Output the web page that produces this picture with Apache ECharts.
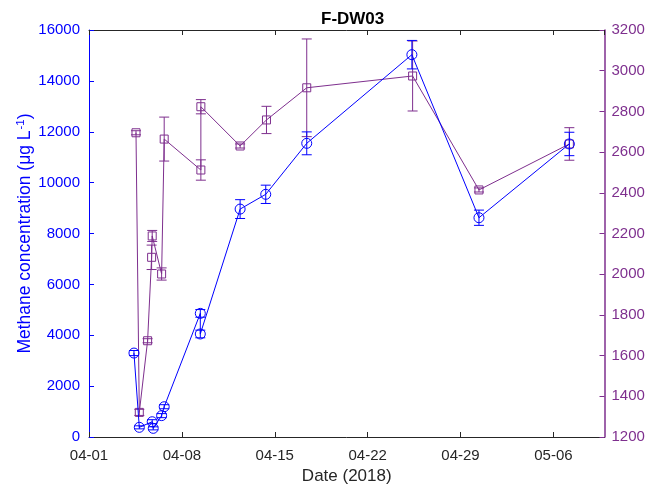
<!DOCTYPE html>
<html>
<head>
<meta charset="utf-8">
<script src="https://cdn.jsdelivr.net/npm/echarts@6/dist/echarts.min.js"></script>
<style>html,body{margin:0;padding:0;background:#fff}#c{width:652px;height:491px}</style>
</head>
<body>
<div id="c"></div>
<script>
// Methane concentration (left axis, blue circles)
const methaneDates = ['04-04 09:20','04-04 19:00','04-05 18:20','04-05 20:10','04-06 11:20','04-06 16:00','04-09 09:20','04-09 09:20','04-12 09:20','04-14 07:40','04-17 09:50','04-25 08:00','04-30 09:20','05-07 04:50'];
const methaneValues = [3300, 380, 600, 340, 840, 1190, 4860, 4050, 8960, 9540, 11545, 15030, 8620, 11520];
const methaneErrors = [100, 60, 80, 60, 80, 80, 150, 150, 370, 360, 450, 560, 300, 460];

// Second series (right axis, purple squares)
const rightDates = ['04-04 13:00','04-04 19:00','04-05 10:00','04-05 17:15','04-05 18:20','04-06 11:20','04-06 16:00','04-09 10:20','04-09 10:20','04-12 09:20','04-14 09:00','04-17 09:50','04-25 09:20','04-30 09:20','05-07 04:50'];
const rightValues = [2695, 1321, 1673, 2083, 2188, 2001, 2664, 2512, 2823, 2630, 2758, 2916, 2974, 2414, 2640];
const rightErrors = [10, 15, 10, 60, 27, 30, 108, 50, 35, 10, 67, 240, 172, 10, 80];

const leftTicks = {min: 0, max: 16000, interval: 2000};
const rightTicks = {min: 1200, max: 3200, interval: 200};
const xTicks = {min: 0, max: 38.85, interval: 7}; // days since 2018-04-01

const BLUE = '#0000FF', PURPLE = '#7E2F8E';
const FONT = 'Liberation Sans, Arial, sans-serif';
const DAY = 86400000, ORIGIN = Date.UTC(2018, 3, 1);

function toDay(s) {
  const [md, hm] = s.split(' ');
  const [m, d] = md.split('-').map(Number);
  const [h, mi] = hm.split(':').map(Number);
  return (Date.UTC(2018, m - 1, d, h, mi) - ORIGIN) / DAY;
}
function fmtDay(v) {
  const dt = new Date(ORIGIN + Math.round(v) * DAY);
  const mm = String(dt.getUTCMonth() + 1).padStart(2, '0');
  const dd = String(dt.getUTCDate()).padStart(2, '0');
  return mm + '-' + dd;
}
const plain = v => String(v);

const mData = methaneDates.map((d, i) => [toDay(d), methaneValues[i]]);
const mErr = methaneDates.map((d, i) => [toDay(d), methaneValues[i] - methaneErrors[i], methaneValues[i] + methaneErrors[i]]);
const rData = rightDates.map((d, i) => [toDay(d), rightValues[i]]);
const rErr = rightDates.map((d, i) => [toDay(d), rightValues[i] - rightErrors[i], rightValues[i] + rightErrors[i]]);

function errRender(color) {
  return function (params, api) {
    const x = api.value(0);
    const lo = api.coord([x, api.value(1)]);
    const hi = api.coord([x, api.value(2)]);
    const w = 5;
    const st = {stroke: color, lineWidth: 1, fill: null};
    return {type: 'group', children: [
      {type: 'line', shape: {x1: lo[0], y1: lo[1], x2: hi[0], y2: hi[1]}, style: st},
      {type: 'line', shape: {x1: lo[0] - w, y1: lo[1], x2: lo[0] + w, y2: lo[1]}, style: st},
      {type: 'line', shape: {x1: hi[0] - w, y1: hi[1], x2: hi[0] + w, y2: hi[1]}, style: st}
    ]};
  };
}

const chart = echarts.init(document.getElementById('c'), null, {renderer: 'canvas'});
chart.setOption({
  animation: false,
  backgroundColor: '#fff',
  title: {text: 'F-DW03', left: 316, top: 6, textStyle: {fontFamily: FONT, fontSize: 17, fontWeight: 'bold', color: '#000'}},
  grid: {left: 89, right: 47.5, top: 30, bottom: 54, containLabel: false},
  xAxis: [{
    type: 'value', min: xTicks.min, max: xTicks.max, interval: xTicks.interval,
    name: 'Date (2018)', nameLocation: 'middle', nameGap: 31, nameMoveOverlap: false,
    nameTextStyle: {fontFamily: FONT, fontSize: 17, color: '#262626'},
    axisLine: {show: true, onZero: false, lineStyle: {color: '#262626', width: 1}},
    axisTick: {show: true, inside: true, length: 5, lineStyle: {color: '#262626'}},
    axisLabel: {formatter: fmtDay, fontFamily: FONT, fontSize: 15, color: '#262626', margin: 11, showMaxLabel: false},
    splitLine: {show: false}
  }, {
    type: 'value', position: 'top', min: xTicks.min, max: xTicks.max, interval: xTicks.interval,
    axisLine: {show: true, onZero: false, lineStyle: {color: '#262626', width: 1}},
    axisTick: {show: true, inside: true, length: 5, lineStyle: {color: '#262626'}},
    axisLabel: {show: false}, splitLine: {show: false}
  }],
  yAxis: [{
    type: 'value', position: 'left', min: leftTicks.min, max: leftTicks.max, interval: leftTicks.interval,
    name: '{a|Methane concentration (μg L}{s|-1}{a|)}', nameLocation: 'middle', nameGap: 54, nameRotate: 90,
    nameMoveOverlap: false,
    nameTextStyle: {color: BLUE, rich: {
      a: {fontFamily: FONT, fontSize: 17.5, color: BLUE},
      s: {fontFamily: FONT, fontSize: 11.5, color: BLUE, verticalAlign: 'top', padding: [0, 0, 8, 1]}
    }},
    axisLine: {show: true, onZero: false, lineStyle: {color: BLUE, width: 1}},
    axisTick: {show: true, inside: true, length: 5, lineStyle: {color: BLUE}},
    axisLabel: {formatter: plain, fontFamily: FONT, fontSize: 15, color: BLUE, margin: 9},
    splitLine: {show: false}
  }, {
    type: 'value', position: 'right', min: rightTicks.min, max: rightTicks.max, interval: rightTicks.interval,
    axisLine: {show: true, onZero: false, lineStyle: {color: PURPLE, width: 1.5}},
    axisTick: {show: true, inside: true, length: 5, lineStyle: {color: PURPLE}},
    axisLabel: {formatter: plain, fontFamily: FONT, fontSize: 15, color: PURPLE, margin: 7},
    splitLine: {show: false}
  }],
  series: [
    {type: 'custom', xAxisIndex: 0, yAxisIndex: 1, renderItem: errRender(PURPLE), data: rErr, z: 2, silent: true},
    {type: 'line', xAxisIndex: 0, yAxisIndex: 1, data: rData, symbol: 'rect', symbolSize: 8,
      lineStyle: {color: PURPLE, width: 1}, itemStyle: {color: 'rgba(0,0,0,0)', borderColor: PURPLE, borderWidth: 1}, z: 3},
    {type: 'custom', xAxisIndex: 0, yAxisIndex: 0, renderItem: errRender(BLUE), data: mErr, z: 4, silent: true},
    {type: 'line', xAxisIndex: 0, yAxisIndex: 0, data: mData, symbol: 'circle', symbolSize: 10,
      lineStyle: {color: BLUE, width: 1}, itemStyle: {color: 'rgba(0,0,0,0)', borderColor: BLUE, borderWidth: 1}, z: 5}
  ]
});
</script>
</body>
</html>
